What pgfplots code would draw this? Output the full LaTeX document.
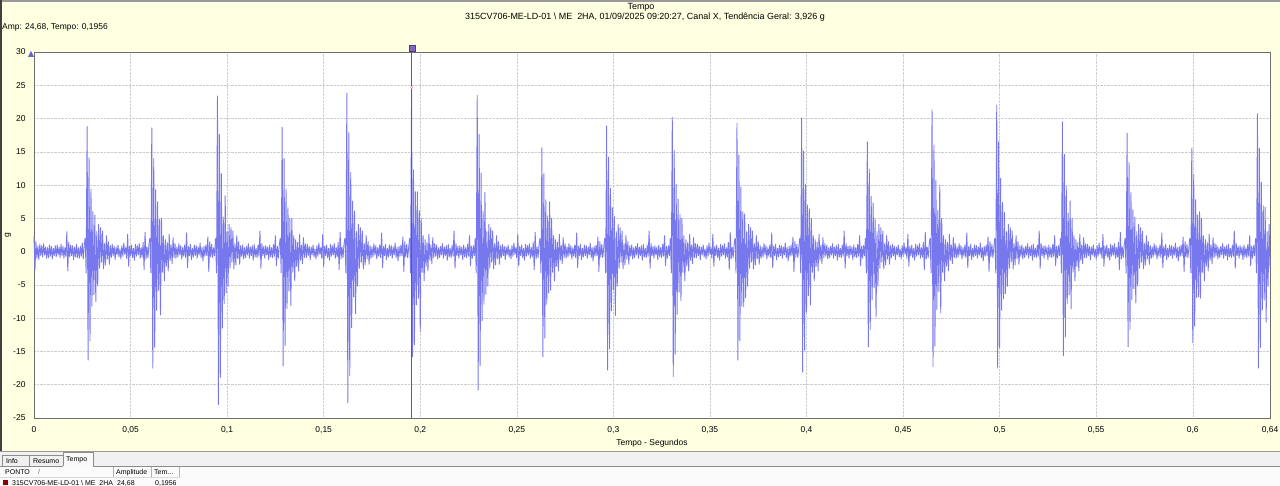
\documentclass[border=0pt]{standalone}
\usepackage{fontspec}
\setmainfont{Liberation Sans}
\usepackage{pgfplots}
\pgfplotsset{compat=1.18}

\definecolor{bgyel}{RGB}{255,255,225}
\definecolor{panel}{RGB}{240,240,240}
\definecolor{sigc}{RGB}{120,120,238}
\definecolor{cursorc}{RGB}{150,70,100}
\definecolor{markc}{RGB}{130,100,200}
\definecolor{gridc}{RGB}{205,205,205}
\definecolor{framec}{RGB}{110,110,110}

% one segment = one shock burst + the noise after it, sampled every 0.5 ms
\pgfplotsset{
  table/seg/.style={row sep=\\, header=false, y index=0, x expr={#1+\coordindex*0.0005}},
  sig/.style={draw=sigc, line width=0.9bp, line join=round, mark=none},
}

\begin{document}
\begin{tikzpicture}[x=1bp, y=1bp, font=\fontsize{8.5}{10}\selectfont]
\path[use as bounding box] (0,0) rectangle (1280,-486);
\fill[bgyel] (0,0) rectangle (1280,-451);
\fill[black!40] (0,0) rectangle (1280,-2);
\fill[black!75] (0,0) rectangle (2,-451);
\fill[panel] (0,-451) rectangle (1280,-486);
\draw[black!40] (0,-451.5) -- (1280,-451.5);

\node[font=\fontsize{9}{10}\selectfont] at (641,-7) {Tempo};
\node[font=\fontsize{9}{10}\selectfont] at (645,-17) {315CV706-ME-LD-01 \textbackslash\ ME\ \ 2HA, 01/09/2025 09:20:27, Canal X, Tendência Geral: 3,926 g};
\node[anchor=west, inner sep=0] at (2,-27) {Amp: 24,68, Tempo: 0,1956};
\fill[sigc!85!black] (28,-57) -- (34,-57) -- (31,-51) -- cycle;

\begin{axis}[
  at={(34bp,-418bp)}, anchor=south west, scale only axis,
  width=1236bp, height=366bp,
  xmin=0, xmax=0.64, ymin=-25, ymax=30,
  xtick={0,0.05,0.1,0.15,0.2,0.25,0.3,0.35,0.4,0.45,0.5,0.55,0.6,0.64},
  xticklabels={0,{0,05},{0,1},{0,15},{0,2},{0,25},{0,3},{0,35},{0,4},{0,45},{0,5},{0,55},{0,6},{0,64}},
  ytick={-25,-20,-15,-10,-5,0,5,10,15,20,25,30},
  yticklabels={-25,-20,-15,-10,-5,0,5,10,15,20,25,30},
  major tick length=0pt,
  grid=major, major grid style={gridc, densely dotted, line width=0.5bp},
  axis line style={framec, line width=0.8bp},
  axis background/.style={fill=white},
  tick label style={font=\fontsize{8.5}{10}\selectfont},
  label style={font=\fontsize{8.5}{10}\selectfont},
  xticklabel style={yshift=-5bp},
  yticklabel style={xshift=-5bp},
  xlabel={Tempo - Segundos},
  xlabel style={at={(axis description cs:0.5,0)}, anchor=center, yshift=-25bp},
  ylabel={g},
  ylabel style={at={(axis description cs:-0.021,0.5)}, anchor=center},
  clip=false,
]
% start of the record, before the first shock
\addplot[sig] table[seg=0]{
2.4\\-2.8\\1.5\\-1.0\\0.8\\-1.2\\1.1\\-0.6\\0.9\\-0.8\\
1.2\\-0.5\\0.7\\-1.0\\0.6\\-0.9\\1.0\\-0.7\\0.8\\-1.1\\
0.5\\-0.6\\0.9\\-0.8\\1.0\\-0.5\\0.7\\-0.9\\1.1\\-0.6\\
0.8\\-1.0\\0.6\\-0.7\\3.0\\-2.9\\1.4\\-0.8\\1.0\\-0.6\\
0.9\\-1.2\\0.7\\-0.8\\1.1\\-0.9\\0.6\\-1.0\\0.8\\-0.7\\
1.3\\-1.1\\0.9\\2.0\\
};
% shock 1
\addplot[sig] table[seg=0.0265]{
2.0\\-3.2\\18.8\\-16.3\\14.1\\-13.4\\9.4\\-8.2\\6.0\\-6.5\\
5.5\\-7.5\\3.0\\-5.2\\4.1\\-2.5\\3.6\\
-1.6\\3.1\\-2.6\\1.2\\-2.0\\2.4\\-1.1\\1.5\\-1.9\\0.9\\
-0.9\\1.1\\-0.6\\0.8\\-1.2\\0.7\\-0.5\\1.0\\-0.8\\0.4\\
-1.1\\0.9\\-0.7\\1.3\\-0.4\\0.6\\-1.0\\2.6\\-2.2\\0.8\\
-0.6\\1.0\\-0.9\\0.5\\-1.3\\1.1\\-0.7\\0.9\\-0.5\\1.2\\
-1.0\\0.6\\-0.8\\1.4\\-2.7\\2.9\\-1.1\\0.7\\-0.9\\1.0\\
2.0\\
};
% shock 2
\addplot[sig] table[seg=0.0600]{
2.0\\-3.2\\18.6\\-17.5\\14.0\\-14.4\\9.3\\-8.8\\7.5\\-5.8\\
4.9\\-9.5\\5.0\\-3.1\\2.4\\-4.4\\1.8\\
-2.2\\1.4\\-2.9\\2.6\\-1.3\\1.0\\-1.8\\2.1\\-0.9\\1.2\\
-1.0\\0.7\\-0.8\\1.2\\-0.5\\0.9\\-1.1\\0.6\\-0.7\\1.0\\
-0.9\\2.8\\-2.4\\0.8\\-0.6\\1.1\\-1.2\\0.5\\-0.8\\1.0\\
-0.6\\0.9\\-1.0\\0.7\\-0.5\\1.3\\-0.9\\0.6\\-1.4\\0.8\\
-0.7\\1.0\\-0.6\\2.2\\-3.0\\1.5\\-0.8\\1.1\\-0.9\\0.6\\
-0.6\\2.0\\
};
% shock 3
\addplot[sig] table[seg=0.0940]{
2.0\\-3.2\\23.4\\-23.0\\17.6\\-18.9\\11.7\\-11.5\\5.2\\-7.8\\
8.4\\-6.2\\3.0\\-5.2\\4.1\\-2.5\\3.6\\
-1.6\\3.1\\-2.6\\1.2\\-2.0\\2.4\\-1.1\\1.5\\-1.9\\0.9\\
-0.7\\1.0\\-1.1\\0.6\\-0.9\\0.8\\-0.5\\1.2\\-1.0\\0.7\\
-0.6\\0.9\\-1.3\\1.1\\-0.8\\0.5\\-0.9\\1.0\\-0.7\\3.1\\
-2.5\\1.2\\-0.6\\0.8\\-1.0\\0.9\\-0.5\\0.7\\-1.2\\1.0\\
-0.8\\0.6\\-0.9\\1.1\\-0.7\\2.4\\-2.1\\0.8\\-1.0\\0.9\\
2.0\\
};
% shock 4
\addplot[sig] table[seg=0.1275]{
2.0\\-3.2\\18.7\\-17.2\\14.0\\-14.1\\9.4\\-8.6\\6.6\\-5.9\\
5.0\\-8.1\\5.0\\-3.1\\2.4\\-4.4\\1.8\\
-2.2\\1.4\\-2.9\\2.6\\-1.3\\1.0\\-1.8\\2.1\\-0.9\\1.2\\
-0.9\\1.1\\-0.6\\0.8\\-1.2\\0.7\\-0.5\\1.0\\-0.8\\0.4\\
-1.1\\0.9\\-0.7\\1.3\\-0.4\\0.6\\-1.0\\2.6\\-2.2\\0.8\\
-0.6\\1.0\\-0.9\\0.5\\-1.3\\1.1\\-0.7\\0.9\\-0.5\\1.2\\
-1.0\\0.6\\-0.8\\1.4\\-2.7\\2.9\\-1.1\\0.7\\-0.9\\1.0\\
2.0\\
};
% shock 5
\addplot[sig] table[seg=0.1610]{
2.0\\-3.2\\23.8\\-22.7\\17.9\\-18.6\\11.9\\-11.4\\7.6\\-6.8\\
6.1\\-9.3\\3.0\\-5.2\\4.1\\-2.5\\3.6\\
-1.6\\3.1\\-2.6\\1.2\\-2.0\\2.4\\-1.1\\1.5\\-1.9\\0.9\\
-1.0\\0.7\\-0.8\\1.2\\-0.5\\0.9\\-1.1\\0.6\\-0.7\\1.0\\
-0.9\\2.8\\-2.4\\0.8\\-0.6\\1.1\\-1.2\\0.5\\-0.8\\1.0\\
-0.6\\0.9\\-1.0\\0.7\\-0.5\\1.3\\-0.9\\0.6\\-1.4\\0.8\\
-0.7\\1.0\\-0.6\\2.2\\-3.0\\1.5\\-0.8\\1.1\\-0.9\\0.6\\
2.0\\
};
% shock 6 (under the cursor)
\addplot[sig] table[seg=0.1945]{
2.0\\-3.2\\24.68\\-15.8\\12.3\\-14.0\\9.0\\-8.0\\9.0\\-7.0\\
6.2\\-12.0\\5.0\\-3.1\\2.4\\-4.4\\1.8\\
-2.2\\1.4\\-2.9\\2.6\\-1.3\\1.0\\-1.8\\2.1\\-0.9\\1.2\\
-0.7\\1.0\\-1.1\\0.6\\-0.9\\0.8\\-0.5\\1.2\\-1.0\\0.7\\
-0.6\\0.9\\-1.3\\1.1\\-0.8\\0.5\\-0.9\\1.0\\-0.7\\3.1\\
-2.5\\1.2\\-0.6\\0.8\\-1.0\\0.9\\-0.5\\0.7\\-1.2\\1.0\\
-0.8\\0.6\\-0.9\\1.1\\-0.7\\2.4\\-2.1\\0.8\\-1.0\\0.9\\
-0.6\\2.0\\
};
% shock 7
\addplot[sig] table[seg=0.2285]{
2.0\\-3.2\\23.5\\-20.8\\17.6\\-17.1\\11.8\\-10.4\\6.1\\-7.9\\
8.9\\-6.4\\3.0\\-5.2\\4.1\\-2.5\\3.6\\
-1.6\\3.1\\-2.6\\1.2\\-2.0\\2.4\\-1.1\\1.5\\-1.9\\0.9\\
-0.9\\1.1\\-0.6\\0.8\\-1.2\\0.7\\-0.5\\1.0\\-0.8\\0.4\\
-1.1\\0.9\\-0.7\\1.3\\-0.4\\0.6\\-1.0\\2.6\\-2.2\\0.8\\
-0.6\\1.0\\-0.9\\0.5\\-1.3\\1.1\\-0.7\\0.9\\-0.5\\1.2\\
-1.0\\0.6\\-0.8\\1.4\\-2.7\\2.9\\-1.1\\0.7\\-0.9\\1.0\\
2.0\\
};
% shock 8
\addplot[sig] table[seg=0.2620]{
2.0\\-3.2\\15.6\\-15.8\\11.7\\-13.0\\7.8\\-7.9\\5.4\\-6.2\\
7.5\\-5.8\\5.0\\-3.1\\2.4\\-4.4\\1.8\\
-2.2\\1.4\\-2.9\\2.6\\-1.3\\1.0\\-1.8\\2.1\\-0.9\\1.2\\
-1.0\\0.7\\-0.8\\1.2\\-0.5\\0.9\\-1.1\\0.6\\-0.7\\1.0\\
-0.9\\2.8\\-2.4\\0.8\\-0.6\\1.1\\-1.2\\0.5\\-0.8\\1.0\\
-0.6\\0.9\\-1.0\\0.7\\-0.5\\1.3\\-0.9\\0.6\\-1.4\\0.8\\
-0.7\\1.0\\-0.6\\2.2\\-3.0\\1.5\\-0.8\\1.1\\-0.9\\0.6\\
2.0\\
};
% shock 9
\addplot[sig] table[seg=0.2955]{
2.0\\-3.2\\18.9\\-17.8\\14.2\\-14.6\\9.5\\-8.9\\6.6\\-5.7\\
5.3\\-9.6\\3.0\\-5.2\\4.1\\-2.5\\3.6\\
-1.6\\3.1\\-2.6\\1.2\\-2.0\\2.4\\-1.1\\1.5\\-1.9\\0.9\\
-0.7\\1.0\\-1.1\\0.6\\-0.9\\0.8\\-0.5\\1.2\\-1.0\\0.7\\
-0.6\\0.9\\-1.3\\1.1\\-0.8\\0.5\\-0.9\\1.0\\-0.7\\3.1\\
-2.5\\1.2\\-0.6\\0.8\\-1.0\\0.9\\-0.5\\0.7\\-1.2\\1.0\\
-0.8\\0.6\\-0.9\\1.1\\-0.7\\2.4\\-2.1\\0.8\\-1.0\\0.9\\
-0.6\\2.0\\
};
% shock 10
\addplot[sig] table[seg=0.3295]{
2.0\\-3.2\\20.2\\-18.8\\15.2\\-15.4\\10.1\\-9.4\\7.9\\-6.1\\
5.6\\-7.4\\5.0\\-3.1\\2.4\\-4.4\\1.8\\
-2.2\\1.4\\-2.9\\2.6\\-1.3\\1.0\\-1.8\\2.1\\-0.9\\1.2\\
-0.9\\1.1\\-0.6\\0.8\\-1.2\\0.7\\-0.5\\1.0\\-0.8\\0.4\\
-1.1\\0.9\\-0.7\\1.3\\-0.4\\0.6\\-1.0\\2.6\\-2.2\\0.8\\
-0.6\\1.0\\-0.9\\0.5\\-1.3\\1.1\\-0.7\\0.9\\-0.5\\1.2\\
-1.0\\0.6\\-0.8\\1.4\\-2.7\\2.9\\-1.1\\0.7\\-0.9\\1.0\\
2.0\\
};
% shock 11
\addplot[sig] table[seg=0.3630]{
2.0\\-3.2\\19.3\\-16.3\\14.5\\-13.4\\9.7\\-8.2\\6.0\\-8.3\\
5.7\\-6.9\\3.0\\-5.2\\4.1\\-2.5\\3.6\\
-1.6\\3.1\\-2.6\\1.2\\-2.0\\2.4\\-1.1\\1.5\\-1.9\\0.9\\
-1.0\\0.7\\-0.8\\1.2\\-0.5\\0.9\\-1.1\\0.6\\-0.7\\1.0\\
-0.9\\2.8\\-2.4\\0.8\\-0.6\\1.1\\-1.2\\0.5\\-0.8\\1.0\\
-0.6\\0.9\\-1.0\\0.7\\-0.5\\1.3\\-0.9\\0.6\\-1.4\\0.8\\
-0.7\\1.0\\-0.6\\2.2\\-3.0\\1.5\\-0.8\\1.1\\-0.9\\0.6\\
2.0\\
};
% shock 12
\addplot[sig] table[seg=0.3965]{
2.0\\-3.2\\20.1\\-18.1\\15.1\\-14.8\\10.1\\-9.1\\7.0\\-6.6\\
6.4\\-8.0\\5.0\\-3.1\\2.4\\-4.4\\1.8\\
-2.2\\1.4\\-2.9\\2.6\\-1.3\\1.0\\-1.8\\2.1\\-0.9\\1.2\\
-0.7\\1.0\\-1.1\\0.6\\-0.9\\0.8\\-0.5\\1.2\\-1.0\\0.7\\
-0.6\\0.9\\-1.3\\1.1\\-0.8\\0.5\\-0.9\\1.0\\-0.7\\3.1\\
-2.5\\1.2\\-0.6\\0.8\\-1.0\\0.9\\-0.5\\0.7\\-1.2\\1.0\\
-0.8\\0.6\\-0.9\\1.1\\-0.7\\2.4\\-2.1\\0.8\\-1.0\\0.9\\
-0.6\\2.0\\
};
% shock 13
\addplot[sig] table[seg=0.4305]{
2.0\\-3.2\\16.5\\-14.3\\12.4\\-11.7\\8.3\\-7.2\\7.3\\-5.4\\
4.8\\-9.8\\3.0\\-5.2\\4.1\\-2.5\\3.6\\
-1.6\\3.1\\-2.6\\1.2\\-2.0\\2.4\\-1.1\\1.5\\-1.9\\0.9\\
-0.9\\1.1\\-0.6\\0.8\\-1.2\\0.7\\-0.5\\1.0\\-0.8\\0.4\\
-1.1\\0.9\\-0.7\\1.3\\-0.4\\0.6\\-1.0\\2.6\\-2.2\\0.8\\
-0.6\\1.0\\-0.9\\0.5\\-1.3\\1.1\\-0.7\\0.9\\-0.5\\1.2\\
-1.0\\0.6\\-0.8\\1.4\\-2.7\\2.9\\-1.1\\0.7\\-0.9\\1.0\\
2.0\\
};
% shock 14
\addplot[sig] table[seg=0.4640]{
2.0\\-3.2\\21.3\\-17.3\\16.0\\-14.2\\10.7\\-8.7\\6.2\\-6.0\\
10.0\\-9.2\\5.0\\-3.1\\2.4\\-4.4\\1.8\\
-2.2\\1.4\\-2.9\\2.6\\-1.3\\1.0\\-1.8\\2.1\\-0.9\\1.2\\
-1.0\\0.7\\-0.8\\1.2\\-0.5\\0.9\\-1.1\\0.6\\-0.7\\1.0\\
-0.9\\2.8\\-2.4\\0.8\\-0.6\\1.1\\-1.2\\0.5\\-0.8\\1.0\\
-0.6\\0.9\\-1.0\\0.7\\-0.5\\1.3\\-0.9\\0.6\\-1.4\\0.8\\
-0.7\\1.0\\-0.6\\2.2\\-3.0\\1.5\\-0.8\\1.1\\-0.9\\0.6\\
2.0\\
};
% shock 15
\addplot[sig] table[seg=0.4975]{
2.0\\-3.2\\22.0\\-17.5\\16.5\\-14.4\\11.0\\-8.8\\7.4\\-7.1\\
5.9\\-6.3\\3.0\\-5.2\\4.1\\-2.5\\3.6\\
-1.6\\3.1\\-2.6\\1.2\\-2.0\\2.4\\-1.1\\1.5\\-1.9\\0.9\\
-0.7\\1.0\\-1.1\\0.6\\-0.9\\0.8\\-0.5\\1.2\\-1.0\\0.7\\
-0.6\\0.9\\-1.3\\1.1\\-0.8\\0.5\\-0.9\\1.0\\-0.7\\3.1\\
-2.5\\1.2\\-0.6\\0.8\\-1.0\\0.9\\-0.5\\0.7\\-1.2\\1.0\\
-0.8\\0.6\\-0.9\\1.1\\-0.7\\2.4\\-2.1\\0.8\\-1.0\\0.9\\
-0.6\\2.0\\
};
% shock 16
\addplot[sig] table[seg=0.5315]{
2.0\\-3.2\\19.5\\-15.6\\14.6\\-12.8\\9.8\\-7.8\\5.8\\-6.5\\
7.6\\-8.6\\5.0\\-3.1\\2.4\\-4.4\\1.8\\
-2.2\\1.4\\-2.9\\2.6\\-1.3\\1.0\\-1.8\\2.1\\-0.9\\1.2\\
-0.9\\1.1\\-0.6\\0.8\\-1.2\\0.7\\-0.5\\1.0\\-0.8\\0.4\\
-1.1\\0.9\\-0.7\\1.3\\-0.4\\0.6\\-1.0\\2.6\\-2.2\\0.8\\
-0.6\\1.0\\-0.9\\0.5\\-1.3\\1.1\\-0.7\\0.9\\-0.5\\1.2\\
-1.0\\0.6\\-0.8\\1.4\\-2.7\\2.9\\-1.1\\0.7\\-0.9\\1.0\\
2.0\\
};
% shock 17
\addplot[sig] table[seg=0.5650]{
2.0\\-3.2\\17.8\\-14.3\\13.4\\-11.7\\8.9\\-7.2\\6.3\\-5.6\\
5.2\\-7.7\\3.0\\-5.2\\4.1\\-2.5\\3.6\\
-1.6\\3.1\\-2.6\\1.2\\-2.0\\2.4\\-1.1\\1.5\\-1.9\\0.9\\
-1.0\\0.7\\-0.8\\1.2\\-0.5\\0.9\\-1.1\\0.6\\-0.7\\1.0\\
-0.9\\2.8\\-2.4\\0.8\\-0.6\\1.1\\-1.2\\0.5\\-0.8\\1.0\\
-0.6\\0.9\\-1.0\\0.7\\-0.5\\1.3\\-0.9\\0.6\\-1.4\\0.8\\
-0.7\\1.0\\-0.6\\2.2\\-3.0\\1.5\\-0.8\\1.1\\-0.9\\0.6\\
2.0\\
};
% shock 18
\addplot[sig] table[seg=0.5985]{
2.0\\-3.2\\15.5\\-13.7\\11.6\\-11.2\\7.8\\-6.9\\5.5\\-6.8\\
6.0\\-7.0\\5.0\\-3.1\\2.4\\-4.4\\1.8\\
-2.2\\1.4\\-2.9\\2.6\\-1.3\\1.0\\-1.8\\2.1\\-0.9\\1.2\\
-0.7\\1.0\\-1.1\\0.6\\-0.9\\0.8\\-0.5\\1.2\\-1.0\\0.7\\
-0.6\\0.9\\-1.3\\1.1\\-0.8\\0.5\\-0.9\\1.0\\-0.7\\3.1\\
-2.5\\1.2\\-0.6\\0.8\\-1.0\\0.9\\-0.5\\0.7\\-1.2\\1.0\\
-0.8\\0.6\\-0.9\\1.1\\-0.7\\2.4\\-2.1\\0.8\\-1.0\\0.9\\
-0.6\\2.0\\
};
% shock 19, runs into the end of the record
\addplot[sig] table[seg=0.6325]{
2.0\\-3.2\\20.7\\-17.5\\15.5\\-14.4\\10.4\\-8.8\\6.9\\-7.3\\
6.7\\-10.6\\3.0\\-5.2\\4.1\\-2.5\\
};

% cursor
\addplot[cursorc, line width=1bp] coordinates {(0.1956,-25) (0.1956,30)};
\addplot[only marks, mark=*, mark size=1.3bp, mark options={draw=cursorc!60, fill=white}] coordinates {(0.1956,24.68)};
\addplot[only marks, mark=square*, mark size=3bp, mark options={fill=markc, draw=markc!60!black, yshift=4bp}] coordinates {(0.1956,30)};
\end{axis}

% bottom panel: tabs and cursor table
\begin{scope}[font=\fontsize{7}{8}\selectfont]
\draw[black!45] (2,-466) -- (2,-455) -- (29,-455) -- (29,-466);
\draw[black!45] (29,-455) -- (63,-455);
\fill[white!60!panel] (63,-466) rectangle (93,-452.5);
\draw[black!45] (63,-466) -- (63,-452.5) -- (93,-452.5) -- (93,-466);
\fill[white!75!panel] (0,-466) rectangle (1280,-486);
\draw[black!45] (0,-466) -- (63,-466) (93,-466) -- (1280,-466);
\draw[black!30] (113,-467) -- (113,-477) (151,-467) -- (151,-477) (179,-467) -- (179,-477);
\draw[black!15] (0,-477.5) -- (180,-477.5);
\node[anchor=base west, inner sep=0] at (6,-463) {Info};
\node[anchor=base west, inner sep=0] at (33,-463) {Resumo};
\node[anchor=base west, inner sep=0] at (66,-461) {Tempo};
\node[anchor=base west, inner sep=0] at (5,-474) {PONTO};
\node[anchor=base west, inner sep=0, black!60] at (38,-474) {/};
\node[anchor=base west, inner sep=0] at (116,-474) {Amplitude};
\node[anchor=base west, inner sep=0] at (154,-474) {Tem...};
\fill[red!55!black] (3,-479.5) rectangle (8,-484.5);
\node[anchor=base west, inner sep=0] at (12,-485) {315CV706-ME-LD-01 \textbackslash\ ME\ \ 2HA};
\node[anchor=base west, inner sep=0] at (117,-485) {24,68};
\node[anchor=base west, inner sep=0] at (155,-485) {0,1956};
\end{scope}
\end{tikzpicture}
\end{document}
